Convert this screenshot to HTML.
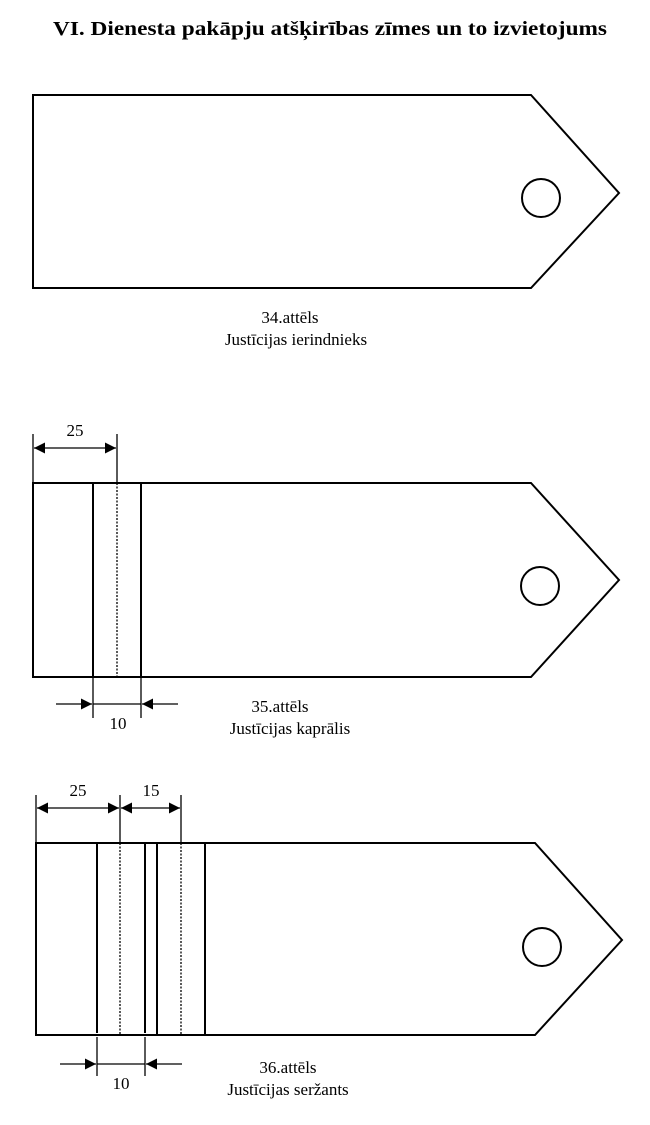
<!DOCTYPE html>
<html><head><meta charset="utf-8"><style>
html,body{margin:0;padding:0;background:#fff;}
svg{display:block;}
text{font-family:"Liberation Serif",serif;fill:#000;}
</style></head><body>
<svg width="650" height="1125" viewBox="0 0 650 1125" xmlns="http://www.w3.org/2000/svg">
<defs>
<marker id="a" viewBox="0 0 10 10" refX="10" refY="5" markerWidth="14" markerHeight="11" markerUnits="userSpaceOnUse" orient="auto"><path d="M0,0L10,5L0,10z" fill="#000"/></marker>
</defs>
<text x="53" y="35" font-size="20" font-weight="bold" textLength="554" lengthAdjust="spacingAndGlyphs">VI. Dienesta pakāpju atšķirības zīmes un to izvietojums</text>

<g fill="none" stroke="#000" stroke-width="2">
<path d="M33,95 L531,95 L619,193 L531,288 L33,288 Z"/>
<circle cx="541" cy="198" r="19"/>
<path d="M33,483 L531,483 L619,580 L531,677 L33,677 Z"/>
<circle cx="540" cy="586" r="19"/>
<line x1="93" y1="483" x2="93" y2="677"/>
<line x1="141" y1="483" x2="141" y2="677"/>
<path d="M36,843 L535,843 L622,940 L535,1035 L36,1035 Z"/>
<circle cx="542" cy="947" r="19"/>
<line x1="97" y1="843" x2="97" y2="1033"/>
<line x1="145" y1="843" x2="145" y2="1033"/>
<line x1="157" y1="843" x2="157" y2="1035"/>
<line x1="205" y1="843" x2="205" y2="1035"/>
</g>
<g fill="none" stroke="#000" stroke-width="1.3">
<line x1="117" y1="483" x2="117" y2="677" stroke-dasharray="2,1.5"/>
<line x1="120" y1="843" x2="120" y2="1035" stroke-dasharray="2,1.5"/>
<line x1="181" y1="843" x2="181" y2="1035" stroke-dasharray="2,1.5"/>
<line x1="33" y1="434" x2="33" y2="483"/>
<line x1="117" y1="434" x2="117" y2="483"/>
<line x1="75" y1="448" x2="34" y2="448" marker-end="url(#a)"/>
<line x1="75" y1="448" x2="116" y2="448" marker-end="url(#a)"/>
<line x1="93" y1="677" x2="93" y2="718"/>
<line x1="141" y1="677" x2="141" y2="718"/>
<line x1="56" y1="704" x2="92" y2="704" marker-end="url(#a)"/>
<line x1="178" y1="704" x2="142" y2="704" marker-end="url(#a)"/>
<line x1="93" y1="704" x2="141" y2="704"/>
<line x1="36" y1="795" x2="36" y2="843"/>
<line x1="120" y1="795" x2="120" y2="843"/>
<line x1="181" y1="795" x2="181" y2="843"/>
<line x1="78" y1="808" x2="37" y2="808" marker-end="url(#a)"/>
<line x1="78" y1="808" x2="119" y2="808" marker-end="url(#a)"/>
<line x1="150" y1="808" x2="121" y2="808" marker-end="url(#a)"/>
<line x1="150" y1="808" x2="180" y2="808" marker-end="url(#a)"/>
<line x1="97" y1="1037" x2="97" y2="1076"/>
<line x1="145" y1="1037" x2="145" y2="1076"/>
<line x1="60" y1="1064" x2="96" y2="1064" marker-end="url(#a)"/>
<line x1="182" y1="1064" x2="146" y2="1064" marker-end="url(#a)"/>
<line x1="97" y1="1064" x2="145" y2="1064"/>
</g>
<g font-size="17" text-anchor="middle">
<text x="75" y="436">25</text>
<text x="118" y="729">10</text>
<text x="78" y="796">25</text>
<text x="151" y="796">15</text>
<text x="121" y="1089">10</text>
<text x="290" y="323">34.attēls</text>
<text x="296" y="345">Justīcijas ierindnieks</text>
<text x="280" y="712">35.attēls</text>
<text x="290" y="734">Justīcijas kaprālis</text>
<text x="288" y="1073">36.attēls</text>
<text x="288" y="1095">Justīcijas seržants</text>
</g>
</svg>
</body></html>
